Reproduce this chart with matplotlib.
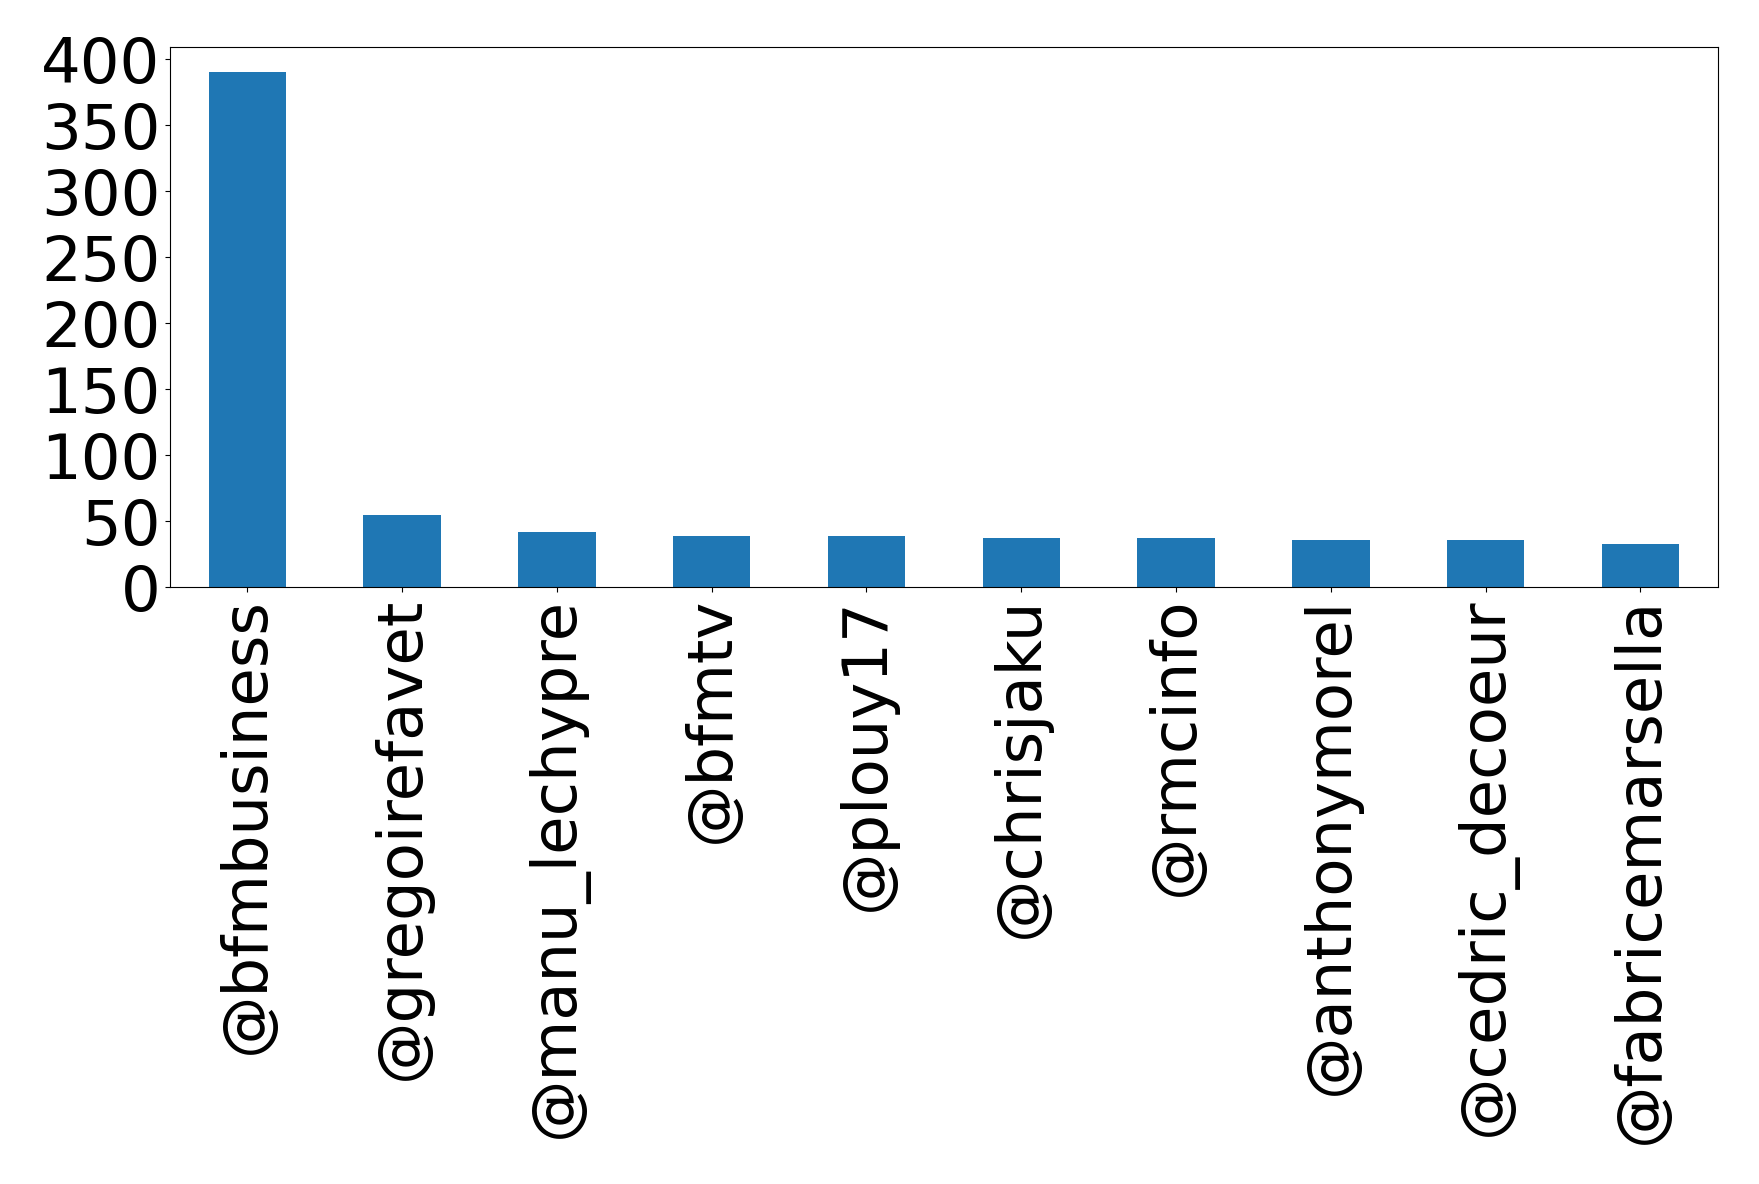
import matplotlib
matplotlib.use("Agg")
import matplotlib.pyplot as plt

accounts = ["@bfmbusiness", "@gregoirefavet", "@manu_lechypre", "@bfmtv",
            "@plouy17", "@chrisjaku", "@rmcinfo", "@anthonymorel",
            "@cedric_decoeur", "@fabricemarsella"]
counts = [390, 55, 42, 39, 39, 37, 37, 36, 36, 33]
yticks = [0, 50, 100, 150, 200, 250, 300, 350, 400]

fig = plt.figure(figsize=(17.59, 11.84), dpi=100)
ax = fig.add_axes([0.0966, 0.504, 0.880, 0.4566])

x = range(len(accounts))
ax.bar(x, counts, width=0.5, color="#1f77b4")
ax.set_xlim(-0.5, len(accounts) - 0.5)
ax.set_xticks(list(x))
ax.set_xticklabels(accounts, rotation=90, fontsize=45)
ax.set_yticks(yticks)
ax.tick_params(axis="y", labelsize=45)

fig.savefig("out.png", dpi=100)
